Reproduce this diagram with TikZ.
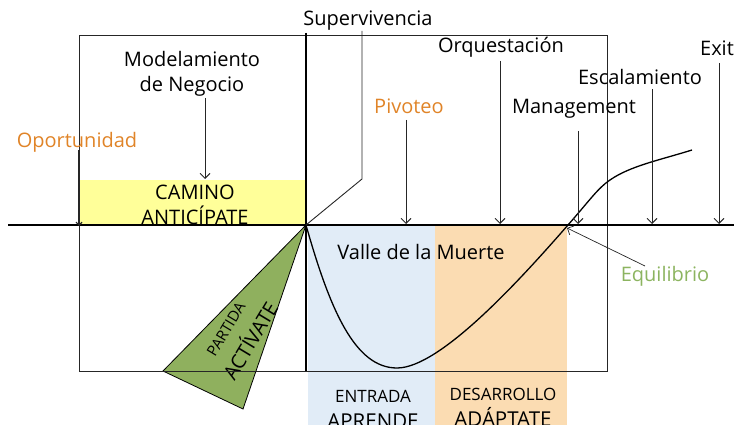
\documentclass[tikz,border=0pt]{standalone}
\usepackage{fontspec}
\setmainfont{Open Sans}
\usetikzlibrary{arrows.meta}
\definecolor{yel}{RGB}{255,255,153}
\definecolor{blu}{RGB}{225,236,247}
\definecolor{ora}{RGB}{251,220,178}
\definecolor{grn}{RGB}{143,176,94}
\definecolor{orat}{RGB}{224,132,40}
\definecolor{grnt}{RGB}{140,180,96}
\begin{document}
\begin{tikzpicture}[x=1pt,y=-1pt,
  lbl/.style={font=\fontsize{20}{24.5}\selectfont, inner sep=0pt, align=center},
  small/.style={font=\fontsize{17}{18}\selectfont, inner sep=0pt, align=center},
  big/.style={font=\fontsize{20.5}{22}\selectfont, inner sep=0pt},
  arr/.style={-{Straight Barb[length=5pt,width=10pt]}, line width=0.9pt, draw=black!85},
  thin/.style={line width=0.9pt, draw=black!85}]
\useasboundingbox (0,0) rectangle (734,425);
\clip (0,0) rectangle (734,425);
% fills
\fill[yel] (79,180) rectangle (306,225);
\fill[blu] (308,225) rectangle (435,425);
\fill[ora] (435,225) rectangle (567,425);
% triangle
\filldraw[fill=grn, draw=black, line width=0.8pt] (306,225) -- (163,371) -- (243,409) -- cycle;
\node[font=\fontsize{15}{16}\selectfont, rotate=59, inner sep=0pt] (partida) at (226,329) {PARTIDA};
\node[font=\fontsize{20}{22}\selectfont, rotate=59, inner sep=0pt] (activate) at (249,340) {ACTÍVATE};
% frame
\draw[thin] (79,35) rectangle (607,371);
\draw[line width=1.6pt] (306,33) -- (306,371);
% axis
\coordinate (axL) at (8,225);
\coordinate (axR) at (734,225);
\draw[line width=1.3pt] (axL) -- (axR);
% curve
\draw[line width=1.3pt] (306,225) .. controls (330,310) and (355,368) .. (397,368)
  .. controls (440,368) and (520,280) .. (568,225)
  .. controls (590,200) and (598,188) .. (610,180)
  .. controls (630,166) and (660,160) .. (692,150);
% labels
\node[lbl] (superv) at (368,21) {Supervivencia};
\node[lbl] (model) at (192,74) {Modelamiento\\de Negocio};
\node[lbl, text=orat] (oport) at (77,142) {Oportunidad};
\node[lbl, text=orat] (pivot) at (409,106) {Pivoteo};
\node[lbl] (orq) at (501,47) {Orquestación};
\node[lbl] (manag) at (574,109) {Management};
\node[lbl] (escal) at (640,77) {Escalamiento};
\node[lbl] (exit) at (717,48) {Exit};
\node[lbl] (camino) at (195,205) {CAMINO\\ANTICÍPATE};
\node[lbl] (valle) at (421,252) {Valle de la Muerte};
\node[lbl, text=grnt] (equil) at (665,276) {Equilibrio};
\node[small] (entrada) at (373,396) {ENTRADA};
\node[big] (aprende) at (373,421) {APRENDE};
\node[small] (desarr) at (503,394) {DESARROLLO};
\node[big] (adaptate) at (503,417) {ADÁPTATE};
% supervivencia connector
\coordinate (svT) at (362,31);
\coordinate (svK) at (362,179);
\coordinate (origin) at (306,225);
\draw[thin] (svT) -- (svK) -- (origin);
% arrow coordinates
\coordinate (modT) at (205,98);   \coordinate (modB) at (205,179);
\coordinate (opT) at (79,150);    \coordinate (opB) at (79,226);
\coordinate (pivT) at (406,120);  \coordinate (pivB) at (406,224);
\coordinate (orqT) at (500,61);   \coordinate (orqB) at (500,224);
\coordinate (manT) at (578,131);  \coordinate (manB) at (578,224);
\coordinate (escT) at (652,89);   \coordinate (escB) at (652,224);
\coordinate (exT) at (719,63);    \coordinate (exB) at (719,224);
\coordinate (eqT) at (645,266);   \coordinate (eqB) at (567,228);
\draw[arr] (modT) -- (modB);
\draw[arr, -{Straight Barb[length=3pt,width=6pt]}, line width=1.2pt] (opT) -- (opB);
\draw[arr] (pivT) -- (pivB);
\draw[arr] (orqT) -- (orqB);
\draw[arr] (manT) -- (manB);
\draw[arr] (escT) -- (escB);
\draw[arr] (exT) -- (exB);
\draw[arr, line width=0.7pt] (eqT) -- (eqB);
\end{tikzpicture}
\end{document}
